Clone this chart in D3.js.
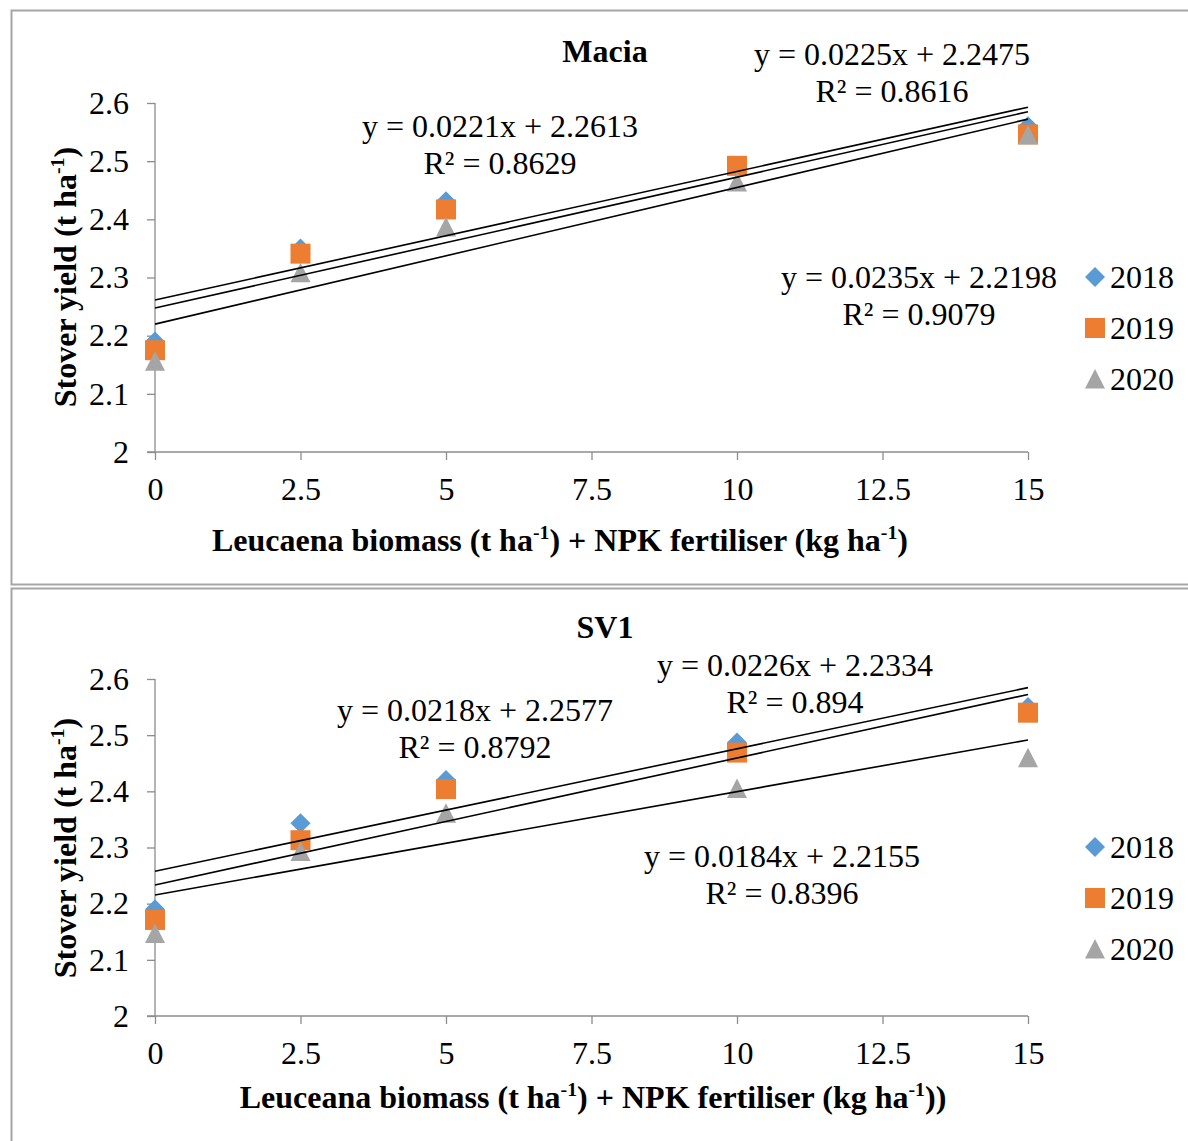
<!DOCTYPE html>
<html>
<head>
<meta charset="utf-8">
<script src="https://cdn.jsdelivr.net/npm/d3@7"></script>
<style>
  html, body { margin: 0; padding: 0; background: #fff; }
  svg { display: block; }
  text { font-family: "Liberation Serif", "Times New Roman", serif; fill: #000; }
</style>
</head>
<body>
<svg id="chart" width="1188" height="1141"></svg>
<script>
// ---------- DATA ----------
const xValues = [0, 2.5, 5, 10, 15];
const xTicks = [0, 2.5, 5, 7.5, 10, 12.5, 15];
const yTicks = [2, 2.1, 2.2, 2.3, 2.4, 2.5, 2.6];
const years = ["2018", "2019", "2020"];
const seriesColors = ["#5B9BD5", "#ED7D31", "#A5A5A5"];

const macia2018 = [2.190, 2.350, 2.431, 2.490, 2.560];
const macia2019 = [2.175, 2.341, 2.417, 2.492, 2.546];
const macia2020 = [2.156, 2.308, 2.387, 2.464, 2.545];

const sv1_2018 = [2.190, 2.343, 2.420, 2.487, 2.550];
const sv1_2019 = [2.171, 2.313, 2.404, 2.469, 2.540];
const sv1_2020 = [2.147, 2.293, 2.361, 2.405, 2.460];

const maciaSlopes = [0.0221, 0.0225, 0.0235];
const maciaIntercepts = [2.2613, 2.2475, 2.2198];
const maciaR2 = ["0.8629", "0.8616", "0.9079"];

const sv1Slopes = [0.0218, 0.0226, 0.0184];
const sv1Intercepts = [2.2577, 2.2334, 2.2155];
const sv1R2 = ["0.8792", "0.894", "0.8396"];

const panelTitles = ["Macia", "SV1"];
const xTitles = [
  ["Leucaena biomass (t ha", "-1", ") + NPK fertiliser (kg ha", "-1", ")"],
  ["Leuceana biomass (t ha", "-1", ") + NPK fertiliser (kg ha", "-1", "))"]
];
const yTitleParts = ["Stover yield (t ha", "-1", ")"];

// ---------- LAYOUT ----------
const svg = d3.select("#chart");
const FS = 32;

const panels = [
  {
    box: [11, 10, 1200, 574],
    yRange: [452, 103], titleY: 62, xTitleX: 560, xTitleY: 551, yTitleY: 277,
    series: [macia2018, macia2019, macia2020],
    slopes: maciaSlopes, intercepts: maciaIntercepts, r2: maciaR2,
    labelPos: [[500, 137], [892, 65], [919, 288]],
    legendY: [277, 328, 379]
  },
  {
    box: [11, 588, 1200, 570],
    yRange: [1016, 679], titleY: 638, xTitleX: 593, xTitleY: 1108, yTitleY: 848,
    series: [sv1_2018, sv1_2019, sv1_2020],
    slopes: sv1Slopes, intercepts: sv1Intercepts, r2: sv1R2,
    labelPos: [[475, 721], [795, 676], [782, 867]],
    legendY: [847, 898, 949]
  }
];

function markerPath(i) {
  if (i === 0) return "M0,-10L10,0L0,10L-10,0Z";           // diamond
  if (i === 1) return "M-10,-10H10V10H-10Z";                 // square
  return "M0,-10L10,9.5L-10,9.5Z";                           // triangle
}

function supText(sel, parts) {
  parts.forEach((p, k) => {
    if (k % 2 === 1) {
      sel.append("tspan").attr("dy", -12).attr("font-size", FS * 0.62).text(p);
    } else {
      const t = sel.append("tspan").text(p);
      if (k > 0) t.attr("dy", 12);
    }
  });
}

panels.forEach((P, pi) => {
  const g = svg.append("g");
  // border
  g.append("rect")
    .attr("x", P.box[0] + 0.5).attr("y", P.box[1] + 0.5)
    .attr("width", P.box[2]).attr("height", P.box[3])
    .attr("fill", "none").attr("stroke", "#a6a6a6").attr("stroke-width", 2);

  const x = d3.scaleLinear().domain([0, 15]).range([155, 1028]);
  const y = d3.scaleLinear().domain([2, 2.6]).range(P.yRange);

  // y axis
  const yAxis = g.append("g").attr("transform", `translate(${x(0)},0)`)
    .call(d3.axisLeft(y).tickValues(yTicks).tickSize(8).tickPadding(18)
      .tickFormat(d => d3.format("")(+d.toFixed(1))));
  yAxis.select(".domain").attr("stroke", "#8c8c8c").attr("stroke-width", 1.3)
    .attr("d", `M0,${y(2)}V${y(2.6)}`);
  yAxis.selectAll(".tick line").attr("stroke", "#8c8c8c").attr("stroke-width", 1.3);
  yAxis.selectAll(".tick text").attr("font-family", "Liberation Serif")
    .attr("font-size", FS).attr("fill", "#000");

  // x axis
  const xAxis = g.append("g").attr("transform", `translate(0,${y(2)})`)
    .call(d3.axisBottom(x).tickValues(xTicks).tickSize(8).tickPadding(17)
      .tickFormat(d => String(d)));
  xAxis.select(".domain").attr("stroke", "#8c8c8c").attr("stroke-width", 1.3)
    .attr("d", `M${x(0) - 8},0H${x(15)}`);
  xAxis.selectAll(".tick line").attr("stroke", "#8c8c8c").attr("stroke-width", 1.3);
  xAxis.selectAll(".tick text").attr("font-family", "Liberation Serif")
    .attr("font-size", FS).attr("fill", "#000");

  // markers
  P.series.forEach((vals, si) => {
    g.append("g").selectAll("path")
      .data(vals.map((v, k) => [xValues[k], v]))
      .join("path")
      .attr("d", markerPath(si))
      .attr("transform", d => `translate(${x(d[0])},${y(d[1])})`)
      .attr("fill", seriesColors[si]);
  });

  // trendlines
  P.slopes.forEach((s, si) => {
    const b = P.intercepts[si];
    g.append("line")
      .attr("x1", x(0)).attr("y1", y(b))
      .attr("x2", x(15)).attr("y2", y(s * 15 + b))
      .attr("stroke", "#000").attr("stroke-width", 1.6);
  });

  // equation labels
  P.slopes.forEach((s, si) => {
    const [lx, ly] = P.labelPos[si];
    g.append("text").attr("x", lx).attr("y", ly).attr("text-anchor", "middle")
      .attr("font-size", FS)
      .text(`y = ${s}x + ${P.intercepts[si]}`);
    g.append("text").attr("x", lx).attr("y", ly + 37).attr("text-anchor", "middle")
      .attr("font-size", FS)
      .text(`R² = ${P.r2[si]}`);
  });

  // title
  g.append("text").attr("x", 605).attr("y", P.titleY).attr("text-anchor", "middle")
    .attr("font-size", FS).attr("font-weight", "bold").text(panelTitles[pi]);

  // x title
  const xt = g.append("text").attr("x", P.xTitleX).attr("y", P.xTitleY)
    .attr("text-anchor", "middle").attr("font-size", FS).attr("font-weight", "bold");
  supText(xt, xTitles[pi]);

  // y title
  const yt = g.append("text")
    .attr("transform", `translate(76,${P.yTitleY}) rotate(-90)`)
    .attr("text-anchor", "middle").attr("font-size", FS).attr("font-weight", "bold");
  supText(yt, yTitleParts);

  // legend
  years.forEach((yr, si) => {
    const ly = P.legendY[si];
    g.append("path").attr("d", markerPath(si))
      .attr("transform", `translate(1095,${ly})`).attr("fill", seriesColors[si]);
    g.append("text").attr("x", 1110).attr("y", ly + 11).attr("font-size", FS).text(yr);
  });
});
</script>
</body>
</html>
